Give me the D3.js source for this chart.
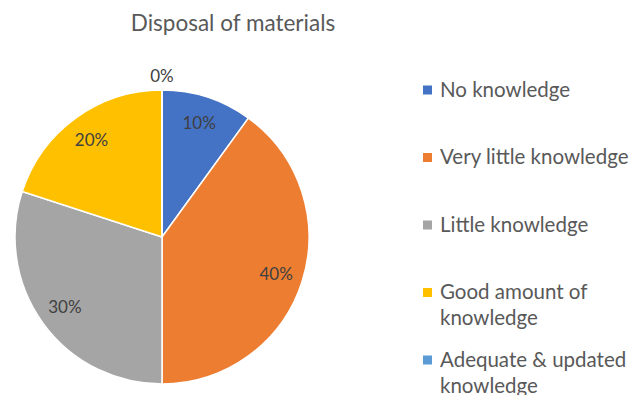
<!DOCTYPE html>
<html><head><meta charset="utf-8">
<script src="https://cdn.jsdelivr.net/npm/d3@7"></script>
<style>html,body{margin:0;padding:0;background:#fff;}svg{display:block;}</style>
</head><body>
<svg id="chart" width="635" height="395"></svg>
<script>
const title = "Disposal of materials";
const categories = ["No knowledge", "Very little knowledge", "Little knowledge", "Good amount of knowledge", "Adequate & updated knowledge"];
const legendLines = [["No knowledge"], ["Very little knowledge"], ["Little knowledge"], ["Good amount of", "knowledge"], ["Adequate & updated", "knowledge"]];
const values = [10, 40, 30, 20, 0];
const colors = ["#4472C4", "#ED7D31", "#A5A5A5", "#FFC000", "#5B9BD5"];

const svg = d3.select("#chart");
const font = "Lato, 'Open Sans', sans-serif";
const cx = 162, cy = 237, R = 147;

svg.append("text").attr("x", 233).attr("y", 31).attr("text-anchor", "middle")
  .style("font-family", font).style("font-size", "22.5px").attr("fill", "#595959").text(title);

const pie = d3.pie().sort(null).value(d => d)(values);
const arc = d3.arc().innerRadius(0).outerRadius(R);
const labelArc = d3.arc().innerRadius(120).outerRadius(120);
const g = svg.append("g").attr("transform", `translate(${cx},${cy})`);
g.selectAll("path").data(pie).join("path")
  .attr("d", arc).attr("fill", (d, i) => colors[i])
  .attr("stroke", "#fff").attr("stroke-width", 1.5);

const total = d3.sum(values);
g.selectAll("text.lbl").data(pie).join("text").attr("class", "lbl")
  .attr("transform", d => {
    if (d.data === 0) {
      const a = d.startAngle;
      return `translate(${Math.sin(a) * (R + 14)},${-Math.cos(a) * (R + 14)})`;
    }
    return `translate(${labelArc.centroid(d)})`;
  })
  .attr("text-anchor", "middle").attr("dy", "0.35em")
  .style("font-family", font).style("font-size", "17px").attr("fill", "#404040")
  .text(d => Math.round(d.data / total * 100) + "%");

const legY = d3.scalePoint().domain(categories).range([90, 360]);
const leg = svg.append("g");
categories.forEach((c, i) => {
  const y = legY(c);
  leg.append("rect").attr("x", 423).attr("y", y - 4.5).attr("width", 9).attr("height", 9).attr("fill", colors[i]);
  const t = leg.append("text").attr("x", 440).attr("y", y + 6.5)
    .style("font-family", font).style("font-size", "20.5px").attr("fill", "#595959");
  legendLines[i].forEach((ln, j) => {
    t.append("tspan").attr("x", 440).attr("dy", j === 0 ? 0 : 26).text(ln);
  });
});
</script>
</body></html>
